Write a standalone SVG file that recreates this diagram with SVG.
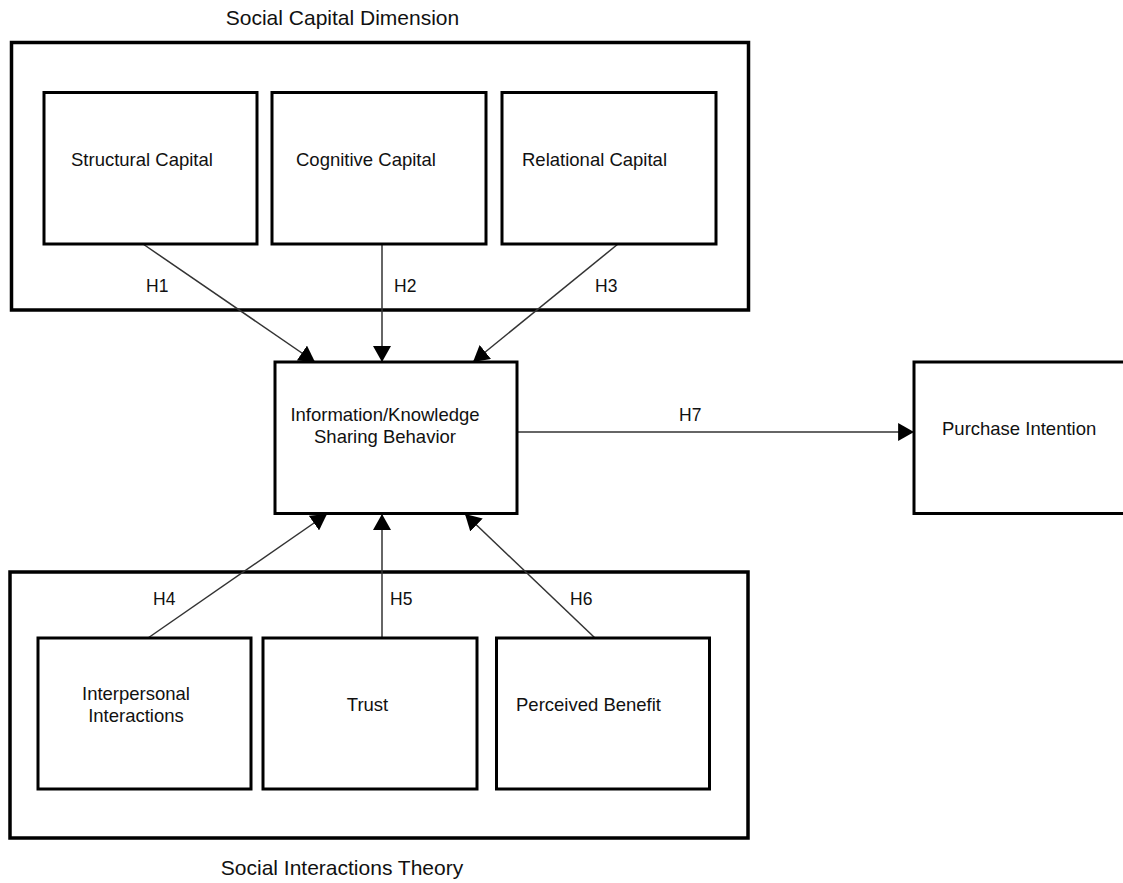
<svg xmlns="http://www.w3.org/2000/svg" width="1123" height="883" viewBox="0 0 1123 883">
  <style>
    .outer { fill: none; stroke: #000; stroke-width: 3.5; }
    .box { fill: #fff; stroke: #000; stroke-width: 3; }
    .lbl { font-family: "Liberation Sans", Arial, sans-serif; font-size: 18.5px; fill: #111; }
    .title { font-family: "Liberation Sans", Arial, sans-serif; font-size: 21px; fill: #111; }
    .h { font-family: "Liberation Sans", Arial, sans-serif; font-size: 17.5px; fill: #111; }
    .conn { stroke: #333; stroke-width: 1.5; fill: none; marker-end: url(#arrow); }
  </style>
  <defs>
    <marker id="arrow" markerUnits="userSpaceOnUse" markerWidth="16" markerHeight="18" viewBox="0 0 15 17" refX="15" refY="8.5" orient="auto">
      <path d="M0,0 L15,8.5 L0,17 z" fill="#000"/>
    </marker>
  </defs>
  <rect width="1123" height="883" fill="#fff"/>

  <g id="social-capital-dimension">
    <text class="title" x="342.5" y="25" text-anchor="middle">Social Capital Dimension</text>
    <rect class="outer" x="11.5" y="42.5" width="737" height="267.5"/>
  </g>
  <g id="social-interactions-theory">
    <rect class="outer" x="10" y="572" width="738" height="266"/>
    <text class="title" x="342" y="875" text-anchor="middle">Social Interactions Theory</text>
  </g>

  <g id="connectors">
    <line class="conn" x1="143" y1="244" x2="315" y2="362"/>
    <line class="conn" x1="382" y1="244" x2="382" y2="362"/>
    <line class="conn" x1="618" y1="244" x2="473" y2="362"/>
    <line class="conn" x1="148" y1="638" x2="327" y2="514"/>
    <line class="conn" x1="382" y1="638" x2="382" y2="514"/>
    <line class="conn" x1="595" y1="638" x2="465" y2="514"/>
    <line class="conn" x1="517" y1="432" x2="914" y2="432"/>
    <text class="h" x="146" y="292">H1</text>
    <text class="h" x="394" y="292">H2</text>
    <text class="h" x="595" y="292">H3</text>
    <text class="h" x="153" y="605">H4</text>
    <text class="h" x="390" y="605">H5</text>
    <text class="h" x="570" y="605">H6</text>
    <text class="h" x="679" y="421">H7</text>
  </g>

  <g id="structural-capital">
    <rect class="box" x="44" y="92.5" width="213" height="151.5"/>
    <text class="lbl" x="71" y="166">Structural Capital</text>
  </g>
  <g id="cognitive-capital">
    <rect class="box" x="272" y="92.5" width="214" height="151.5"/>
    <text class="lbl" x="296" y="166">Cognitive Capital</text>
  </g>
  <g id="relational-capital">
    <rect class="box" x="502" y="92.5" width="214" height="151.5"/>
    <text class="lbl" x="522" y="166">Relational Capital</text>
  </g>

  <g id="knowledge-sharing">
    <rect class="box" x="275" y="362" width="242" height="151.5"/>
    <text class="lbl" x="385" y="421" text-anchor="middle">Information/Knowledge</text>
    <text class="lbl" x="385" y="443" text-anchor="middle">Sharing Behavior</text>
  </g>
  <g id="purchase-intention">
    <rect class="box" x="914" y="362" width="212" height="151.5"/>
    <text class="lbl" x="942" y="435">Purchase Intention</text>
  </g>

  <g id="interpersonal-interactions">
    <rect class="box" x="38" y="638" width="213" height="151"/>
    <text class="lbl" x="136" y="700" text-anchor="middle">Interpersonal</text>
    <text class="lbl" x="136" y="722" text-anchor="middle">Interactions</text>
  </g>
  <g id="trust">
    <rect class="box" x="263" y="638" width="214" height="151"/>
    <text class="lbl" x="367.5" y="711" text-anchor="middle">Trust</text>
  </g>
  <g id="perceived-benefit">
    <rect class="box" x="496.5" y="638" width="213" height="151"/>
    <text class="lbl" x="516" y="711">Perceived Benefit</text>
  </g>
</svg>
